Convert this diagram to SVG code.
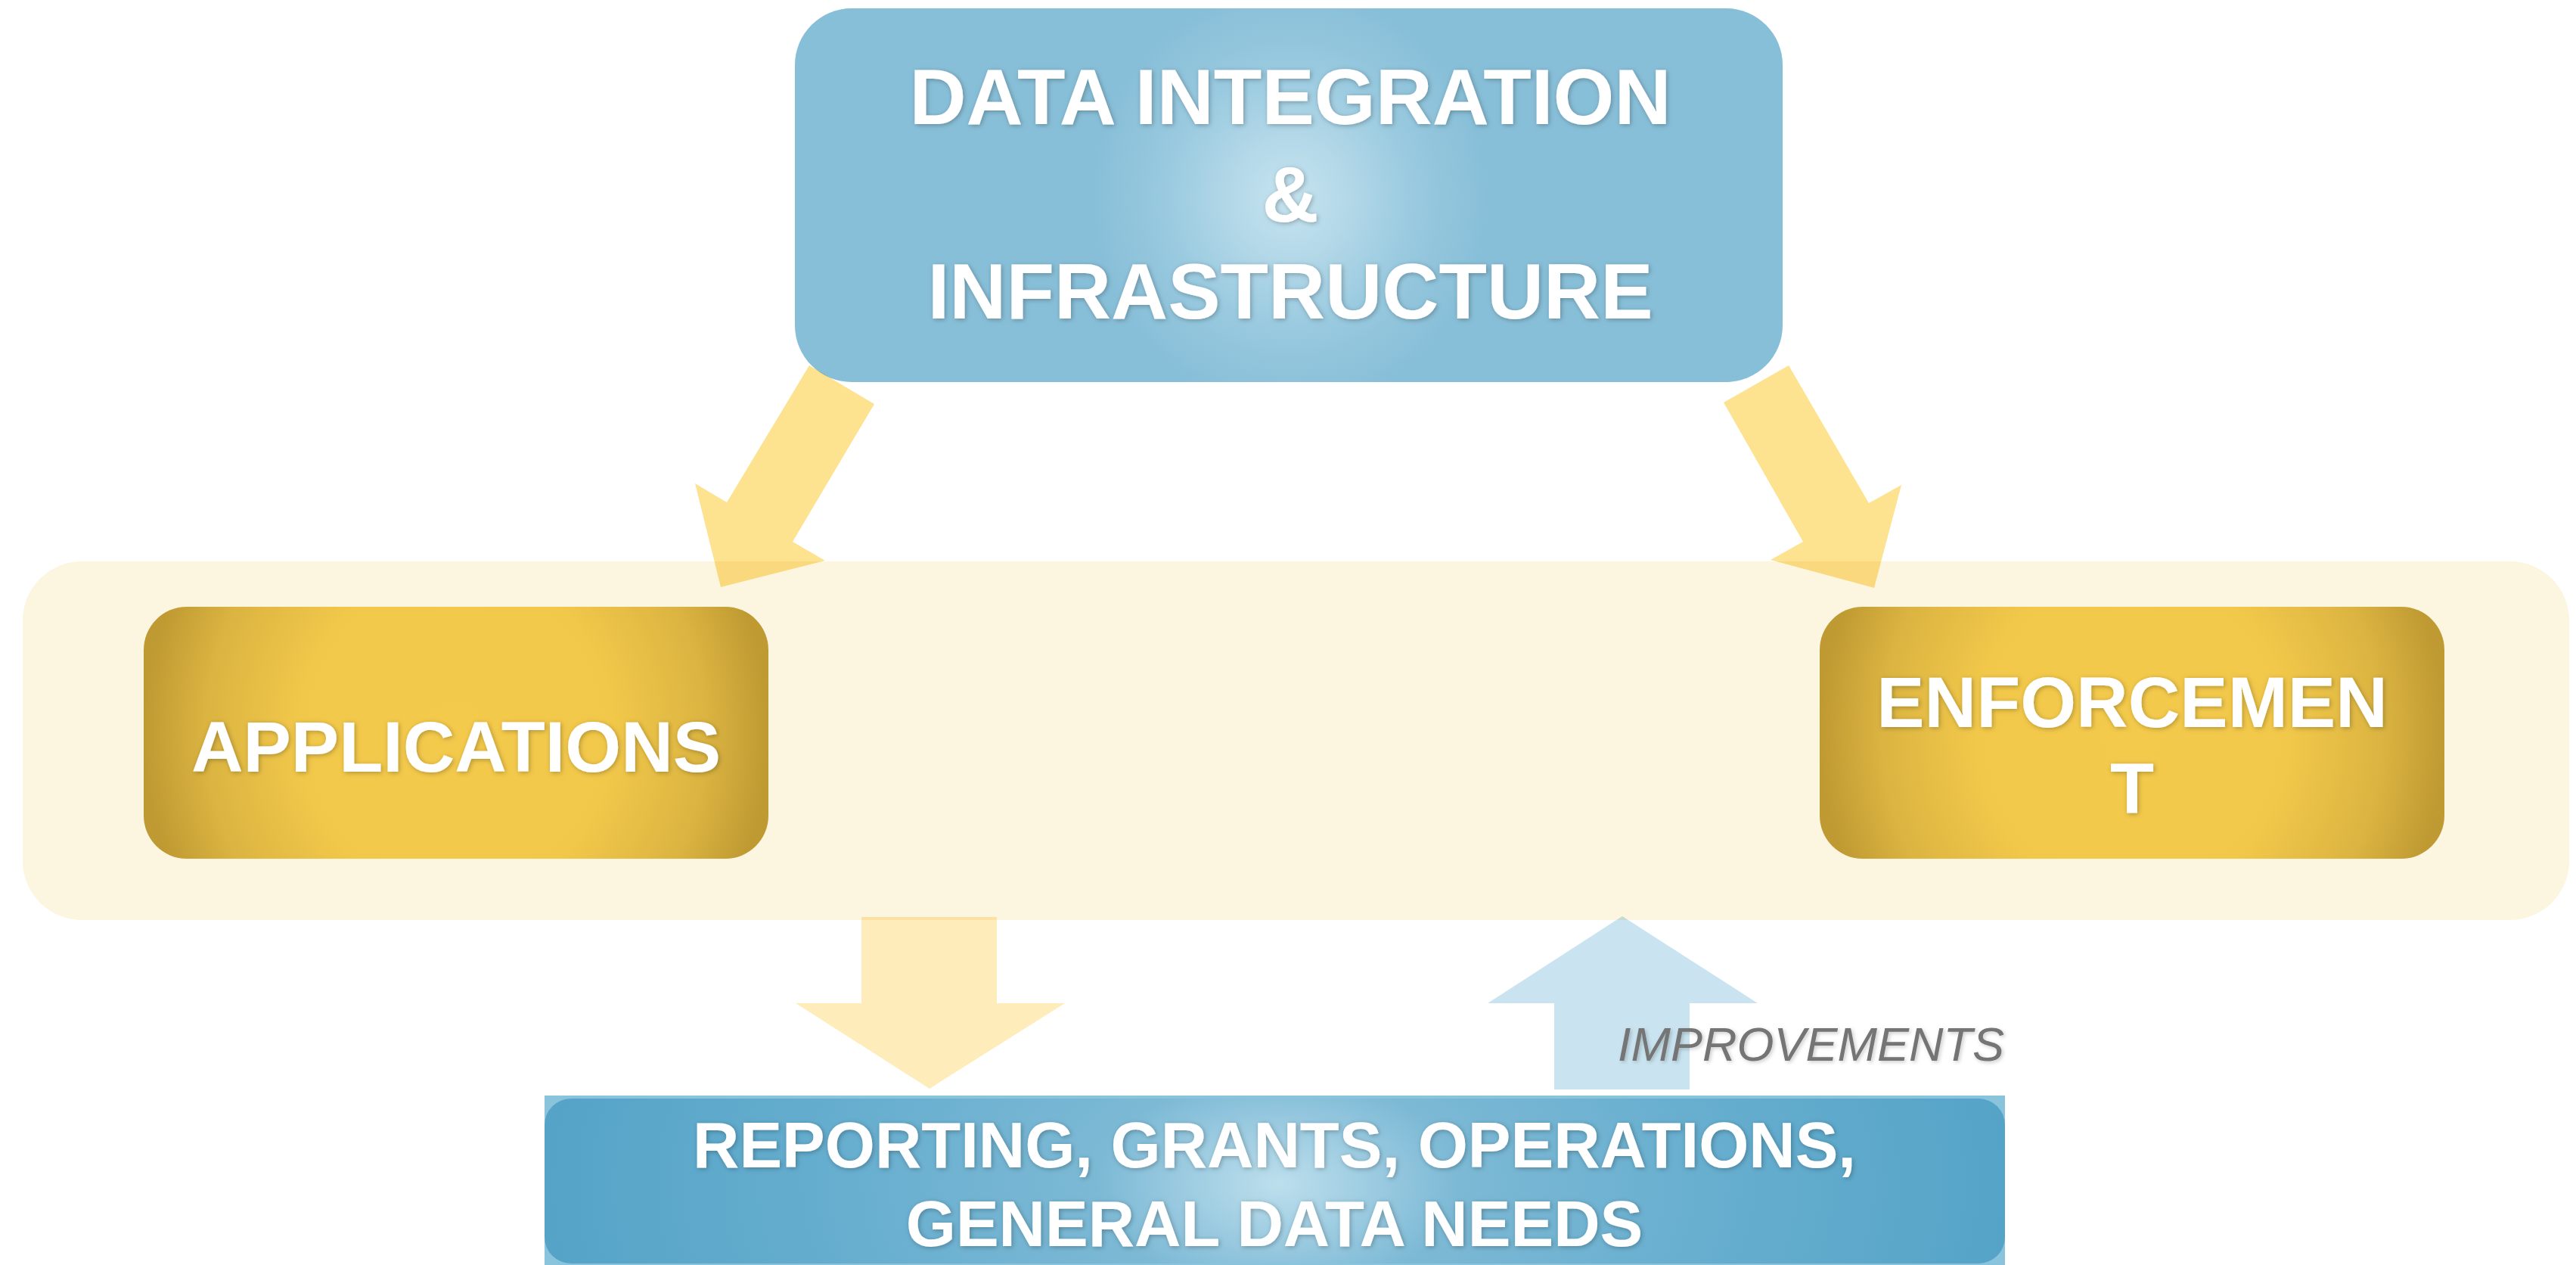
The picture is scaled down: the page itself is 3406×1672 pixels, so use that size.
<svg xmlns="http://www.w3.org/2000/svg" width="3406" height="1672" viewBox="0 0 3406 1672">
  <defs>
    <radialGradient id="gTop" gradientUnits="userSpaceOnUse" cx="1705" cy="262" r="260" gradientTransform="translate(1705 262) scale(1 1.05) translate(-1705 -262)">
      <stop offset="0" stop-color="#c7e4f0"/>
      <stop offset="0.3" stop-color="#b3d8e8"/>
      <stop offset="0.65" stop-color="#98c9df"/>
      <stop offset="1" stop-color="#88bfd8"/>
    </radialGradient>
    <radialGradient id="gGold" cx="0.5" cy="0.5" r="0.5" gradientTransform="translate(0.5 0.5) scale(1 2.6) translate(-0.5 -0.5)">
      <stop offset="0" stop-color="#f4ca4c"/>
      <stop offset="0.5" stop-color="#f2c84a"/>
      <stop offset="0.8" stop-color="#dbb441"/>
      <stop offset="1" stop-color="#bf9a32"/>
    </radialGradient>
    <radialGradient id="gBottom" gradientUnits="userSpaceOnUse" cx="1690" cy="1565" r="960" gradientTransform="translate(1690 1565) scale(1 0.6) translate(-1690 -1565)">
      <stop offset="0" stop-color="#bcdfec"/>
      <stop offset="0.1" stop-color="#a4d0e4"/>
      <stop offset="0.25" stop-color="#7cb9d5"/>
      <stop offset="0.6" stop-color="#67aecf"/>
      <stop offset="1" stop-color="#55a4c8"/>
    </radialGradient>
    <filter id="shadow" x="-10%" y="-30%" width="120%" height="160%">
      <feDropShadow dx="1.5" dy="1.5" stdDeviation="3" flood-color="#000" flood-opacity="0.28"/>
    </filter>
    <filter id="shadowLight" x="-10%" y="-30%" width="120%" height="160%">
      <feDropShadow dx="2" dy="2" stdDeviation="2.5" flood-color="#000" flood-opacity="0.2"/>
    </filter>
  </defs>
  <style>
    .lbl { font-family: "Liberation Sans", Arial, sans-serif; font-weight: bold; fill: #ffffff; text-anchor: middle; filter: url(#shadow); }
    .gold { fill: url(#gGold); }
    .arrowY { fill: #fde290; mix-blend-mode: multiply; }
    .arrowPale { fill: #feecbb; mix-blend-mode: multiply; }
    .arrowBlue { fill: #c9e4f0; mix-blend-mode: multiply; }
    .note { font-family: "Liberation Sans", Arial, sans-serif; font-style: italic; fill: #747474; filter: url(#shadowLight); }
  </style>

  <rect width="3406" height="1672" fill="#ffffff"/>

  <g id="band">
    <rect x="30" y="742" width="3367" height="474" rx="78" ry="78" fill="#fcf5e0"/>
  </g>

  <g id="data-integration">
    <rect x="1051" y="11" width="1306" height="494" rx="75" ry="75" fill="url(#gTop)"/>
    <text class="lbl" x="1706" y="164" font-size="104">DATA INTEGRATION</text>
    <text class="lbl" x="1706" y="293" font-size="104">&amp;</text>
    <text class="lbl" x="1706" y="421" font-size="104">INFRASTRUCTURE</text>
  </g>

  <g id="applications">
    <rect class="gold" x="190" y="802" width="826" height="333" rx="57" ry="57"/>
    <text class="lbl" x="603" y="1020" font-size="95">APPLICATIONS</text>
  </g>

  <g id="enforcement">
    <rect class="gold" x="2406" y="802" width="826" height="333" rx="57" ry="57"/>
    <text class="lbl" x="2819" y="961" font-size="95">ENFORCEMEN</text>
    <text class="lbl" x="2819" y="1075" font-size="95">T</text>
  </g>

  <g id="reporting">
    <rect x="720" y="1448" width="1931" height="224" fill="#8ac3dc"/>
    <rect x="720" y="1452" width="1931" height="218" rx="35" ry="35" fill="url(#gBottom)"/>
    <text class="lbl" x="1685" y="1543" font-size="85">REPORTING, GRANTS, OPERATIONS,</text>
    <text class="lbl" x="1685" y="1647" font-size="85">GENERAL DATA NEEDS</text>
  </g>

  <g id="connectors">
    <polygon class="arrowY" points="1070,483 1156,534 1048,716 1091,741 953,776 919,639 961,664"/>
    <polygon class="arrowY" points="2365,483 2279,532 2384,716 2341,740 2478,777 2514,641 2471,665"/>
    <polygon class="arrowPale" points="1139,1212 1318,1212 1318,1326 1408,1326 1229,1439 1052,1326 1139,1326"/>
    <polygon class="arrowBlue" points="2055,1440 2234,1440 2234,1326 2324,1326 2145,1211 1967,1326 2055,1326"/>
    <text class="note" x="2139" y="1402" font-size="63">IMPROVEMENTS</text>
  </g>
</svg>
